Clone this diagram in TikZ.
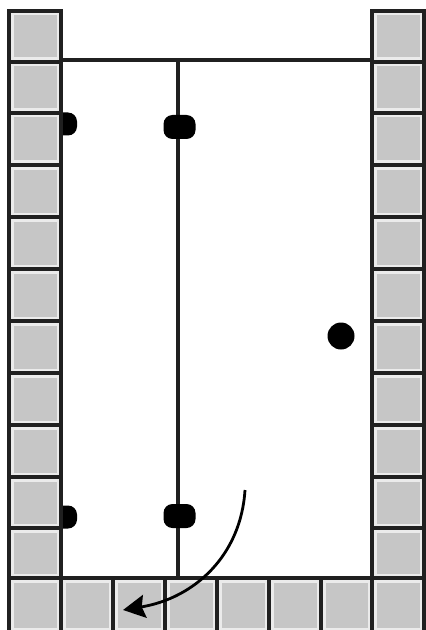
\documentclass[tikz,border=0pt]{standalone}
\usetikzlibrary{arrows.meta}

\definecolor{cellgray}{HTML}{C6C6C6}
\definecolor{celledge}{HTML}{EBEBEB}
\definecolor{wirecolor}{HTML}{202020}

% one wall cell: name, left, top, right, bottom
\newcommand{\wallcell}[5]{%
  \node[cell, minimum width=(#4-#2)*0.5mm, minimum height=(#5-#3)*0.5mm] (#1) at ({(#2+#4)/2},{(#3+#5)/2}) {};
  \node[cellcore, minimum width=(#4-#2-9)*0.5mm, minimum height=(#5-#3-9)*0.5mm] at (#1.center) {};
}

\begin{document}
\begin{tikzpicture}[
    x=0.5mm, y=-0.5mm,
    cell/.style={draw=wirecolor, fill=celledge, rectangle, inner sep=0pt, outer sep=0pt, line width=1.6mm},
    cellcore/.style={fill=cellgray, rectangle, inner sep=0pt, outer sep=0pt},
    stud/.style={fill=black, rectangle, rounded corners=4.5mm, inner sep=0pt, minimum width=13mm, minimum height=11.5mm},
    pill/.style={fill=black, rectangle, rounded corners=4.5mm, inner sep=0pt, minimum width=16mm, minimum height=12mm},
    ball/.style={fill=black, circle, inner sep=0pt, minimum size=13.5mm},
    wire/.style={draw=wirecolor, line width=1.8mm},
    swing/.style={-{Stealth[length=11mm, width=11.5mm, inset=1.5mm]}, line width=1.4mm}
]
\useasboundingbox (0,0) rectangle (425,630);

% Studs go first so that the left wall hides half of them
\node[stud] (studtop) at (64,124) {};
\node[stud] (studbottom) at (64,517) {};

% Left and right walls
\foreach \i/\ya/\yb in {1/11/62, 2/62/113, 3/113/165, 4/165/217, 5/217/269, 6/269/321, 7/321/373, 8/373/425, 9/425/477, 10/477/528, 11/528/578} {
  \wallcell{L\i}{9}{\ya}{61}{\yb}
  \wallcell{R\i}{372}{\ya}{424}{\yb}
}

% Floor
\foreach \i/\xa/\xb in {1/9/61, 2/61/113, 3/113/165, 4/165/217, 5/217/269, 6/269/321, 7/321/372, 8/372/424} {
  \wallcell{F\i}{\xa}{578}{\xb}{632}
}

% Frame lines
\coordinate (roofleft) at (61,60);
\coordinate (roofright) at (372,60);
\coordinate (rooftop) at (178,60);
\coordinate (rodfoot) at (178,578);
\coordinate (swingstart) at (245,490);
\coordinate (swingend) at (123,610);

\draw[wire] (roofleft) -- (roofright);
\draw[wire] (rooftop) -- (rodfoot);

% Parts on the rod and the free ball
\node[pill] (pilltop) at (179.5,127) {};
\node[pill] (pillbottom) at (179.5,516) {};
\node[ball] (freeball) at (341,336) {};

% Swing arrow
\draw[swing] (swingstart) .. controls (241,555) and (195,598) .. (swingend);

\end{tikzpicture}
\end{document}
